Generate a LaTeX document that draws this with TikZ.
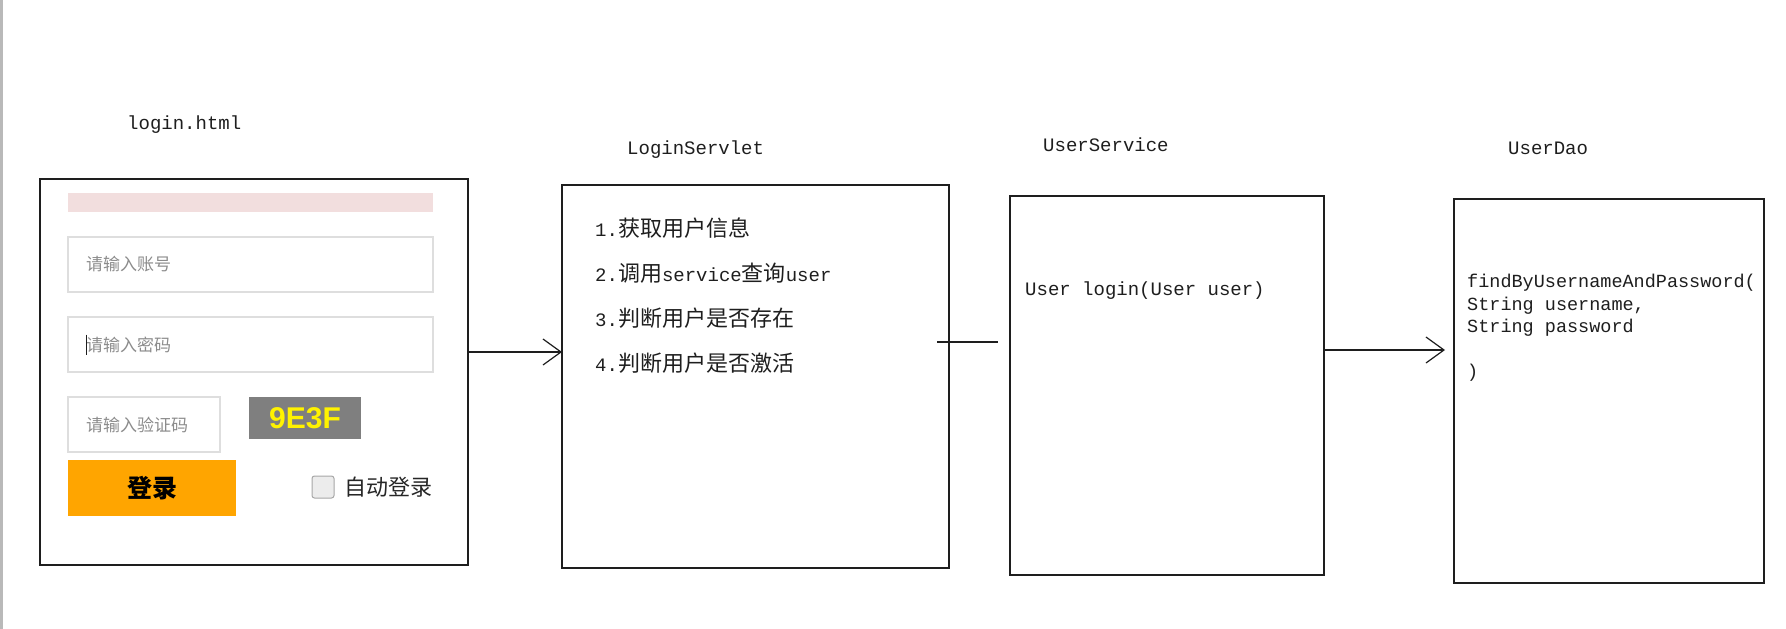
\documentclass[tikz,border=0pt]{standalone}
\usepackage{fontspec}
\setmainfont{Liberation Mono}
\newfontfamily\cjk{Noto Sans CJK SC}
\newfontfamily\uifont{Liberation Sans}
\usetikzlibrary{positioning,calc,arrows.meta}
\definecolor{pinkbar}{HTML}{F2DEDE}
\definecolor{fieldgray}{HTML}{DEDEDE}
\definecolor{hintgray}{HTML}{8C8C8C}
\definecolor{capgray}{HTML}{7F7F7F}
\definecolor{btnorange}{HTML}{FFA500}
\definecolor{inkgray}{HTML}{1E1E1E}

\begin{document}
\begin{tikzpicture}[x=1pt,y=-1pt,
    box/.style={draw=inkgray, line width=1.3pt, inner sep=0pt, outer sep=0pt},
    title/.style={anchor=west, inner sep=0pt, text=inkgray, font=\fontsize{19}{23}\selectfont},
    field/.style={draw=fieldgray, line width=1.5pt, fill=white, inner sep=0pt, outer sep=0pt},
    hint/.style={anchor=west, inner sep=0pt, text=hintgray, font=\cjk\fontsize{17}{20}\selectfont},
    arr/.style={draw=inkgray, -{Straight Barb[length=18pt,width=26pt]}, line width=1.2pt}]
  \useasboundingbox (0,0) rectangle (1786,629);
  \fill[gray!55] (0,0) rectangle (3,629);

  % the four parts
  \node[box, minimum width=428pt, minimum height=386pt] (form) at (254,372) {};
  \node[box, minimum width=387pt, minimum height=383pt] (servlet) at (755.5,376.5) {};
  \node[box, minimum width=314pt, minimum height=379pt] (service) at (1167,385.5) {};
  \node[box, minimum width=310pt, minimum height=384pt] (dao) at (1609,391) {};

  \node[title] (formname) at (127,125) {login.html};
  \node[title] (servletname) at (627,150) {LoginServlet};
  \node[title] (servicename) at (1043,145) {UserService};
  \node[title] (daoname) at (1508,148) {UserDao};

  % login form
  \node[fill=pinkbar, inner sep=0pt, minimum width=365pt, minimum height=19pt] (msgbar) at (250.5,202.5) {};
  \node[field, minimum width=365pt, minimum height=55pt] (userfield) at (250.5,264.5) {};
  \node[field, minimum width=365pt, minimum height=55pt] (pwdfield) at (250.5,344.5) {};
  \node[field, minimum width=152pt, minimum height=55pt] (codefield) at (144,424.5) {};
  \node[hint] (userhint) at ([xshift=18pt]userfield.west) {请输入账号};
  \node[hint] (pwdhint) at ([xshift=18pt]pwdfield.west) {请输入密码};
  \node[hint] (codehint) at ([xshift=18pt]codefield.west) {请输入验证码};
  \draw[inkgray, line width=0.8pt] ($(pwdfield.west)+(18,-10)$) -- ($(pwdfield.west)+(18,10)$);
  \node[fill=capgray, inner sep=0pt, minimum width=112pt, minimum height=42pt,
        text=yellow, font=\uifont\bfseries\fontsize{30}{30}\selectfont] (captcha) at (305,418) {9E3F};
  \node[fill=btnorange, inner sep=0pt, minimum width=168pt, minimum height=56pt,
        font=\cjk\bfseries\fontsize{25}{25}\selectfont] (loginbtn) at (152,488) {登录};
  \node[draw=gray!70, fill=gray!15, line width=1pt, rounded corners=2.5pt, inner sep=0pt,
        minimum size=22pt] (autochk) at (323,487) {};
  \node[anchor=west, inner sep=0pt, text=black!85, font=\cjk\fontsize{22}{24}\selectfont]
        (autolabel) at ([xshift=10pt]autochk.east) {自动登录};

  % servlet steps
  \node[title] (step1) at (595,228) {1.{\cjk\fontsize{22}{24}\selectfont 获取用户信息}};
  \node[title] (step2) at (595,273) {2.{\cjk\fontsize{22}{24}\selectfont 调用}service{\cjk\fontsize{22}{24}\selectfont 查询}user};
  \node[title] (step3) at (595,318) {3.{\cjk\fontsize{22}{24}\selectfont 判断用户是否存在}};
  \node[title] (step4) at (595,363) {4.{\cjk\fontsize{22}{24}\selectfont 判断用户是否激活}};

  \node[title] (loginsig) at (1025,291) {User login(User user)};
  \node[title, align=left, font=\fontsize{18.5}{22.5}\selectfont] (findsig) at (1467,328)
        {findByUsernameAndPassword(\\String username,\\String password\\[22.5pt])};

  % connectors
  \coordinate (lvl1) at (0,352);
  \coordinate (lvl2) at (0,342);
  \coordinate (lvl3) at (0,350);
  \draw[arr] (form.east |- lvl1) -- (servlet.west |- lvl1);
  \draw[inkgray, line width=1.2pt] ($(servlet.east |- lvl2)+(-12,0)$) -- ($(service.west |- lvl2)+(-12,0)$);
  \draw[arr] (service.east |- lvl3) -- ($(dao.west |- lvl3)+(-9,0)$);
\end{tikzpicture}
\end{document}
